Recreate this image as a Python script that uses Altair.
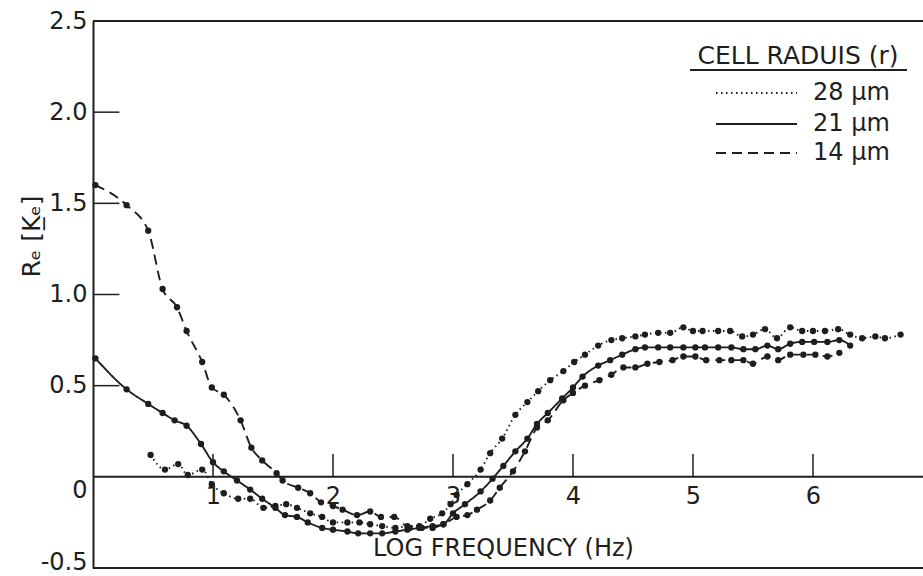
import altair as alt
import pandas as pd

# ---- data ----
x28 = [0.48, 0.60, 0.71, 0.79, 0.91, 0.99, 1.09, 1.21, 1.31, 1.42, 1.52, 1.61, 1.70, 1.81, 1.91,
       2.00, 2.12, 2.22, 2.31, 2.41, 2.52, 2.62, 2.72, 2.81, 2.91, 2.98, 3.03, 3.12, 3.23, 3.31,
       3.41, 3.52, 3.62, 3.71, 3.81, 3.92, 4.01, 4.10, 4.21, 4.32, 4.41, 4.52, 4.60, 4.71, 4.81,
       4.92, 5.00, 5.08, 5.21, 5.31, 5.41, 5.50, 5.60, 5.70, 5.81, 5.91, 6.00, 6.10, 6.21, 6.31,
       6.41, 6.52, 6.60, 6.73]
y28 = [0.12, 0.04, 0.07, 0.01, 0.04, -0.04, -0.09, -0.12, -0.12, -0.17, -0.16, -0.15, -0.17, -0.20, -0.22,
       -0.25, -0.25, -0.25, -0.26, -0.27, -0.28, -0.27, -0.27, -0.23, -0.20, -0.15, -0.10, -0.04, 0.04, 0.13,
       0.21, 0.34, 0.41, 0.47, 0.53, 0.58, 0.63, 0.67, 0.72, 0.75, 0.76, 0.77, 0.78, 0.79, 0.79,
       0.82, 0.80, 0.80, 0.80, 0.80, 0.77, 0.78, 0.81, 0.76, 0.82, 0.80, 0.80, 0.80, 0.81, 0.78,
       0.76, 0.77, 0.76, 0.78]

x21 = [0.02, 0.28, 0.46, 0.58, 0.68, 0.78, 0.90, 1.00, 1.09, 1.20, 1.31, 1.41, 1.52, 1.60, 1.70,
       1.79, 1.91, 2.00, 2.12, 2.21, 2.31, 2.41, 2.52, 2.62, 2.72, 2.83, 2.92, 3.00, 3.10, 3.23,
       3.33, 3.42, 3.52, 3.62, 3.70, 3.79, 3.91, 4.00, 4.08, 4.21, 4.31, 4.41, 4.52, 4.60, 4.71,
       4.81, 4.92, 5.02, 5.10, 5.21, 5.32, 5.42, 5.52, 5.62, 5.71, 5.81, 5.91, 6.01, 6.12, 6.22, 6.31]
y21 = [0.65, 0.48, 0.40, 0.35, 0.31, 0.28, 0.18, 0.08, 0.03, -0.02, -0.07, -0.12, -0.17, -0.21, -0.22,
       -0.25, -0.28, -0.29, -0.30, -0.31, -0.31, -0.31, -0.30, -0.29, -0.28, -0.27, -0.26, -0.20, -0.15, -0.08,
       -0.01, 0.06, 0.14, 0.21, 0.29, 0.35, 0.43, 0.49, 0.55, 0.61, 0.64, 0.67, 0.70, 0.71, 0.71,
       0.71, 0.71, 0.71, 0.71, 0.71, 0.71, 0.70, 0.70, 0.72, 0.70, 0.73, 0.74, 0.74, 0.74, 0.75, 0.72]

x14 = [0.02, 0.28, 0.46, 0.58, 0.70, 0.78, 0.91, 0.99, 1.09, 1.23, 1.32, 1.41, 1.53, 1.58, 1.71,
       1.81, 1.90, 2.00, 2.08, 2.20, 2.31, 2.40, 2.51, 2.64, 2.74, 2.83, 2.92, 3.03, 3.12, 3.20,
       3.31, 3.39, 3.50, 3.60, 3.70, 3.79, 3.92, 4.00, 4.10, 4.22, 4.32, 4.42, 4.52, 4.62, 4.72,
       4.83, 4.92, 5.02, 5.11, 5.22, 5.32, 5.42, 5.50, 5.62, 5.71, 5.81, 5.92, 6.02, 6.12, 6.22]
y14 = [1.60, 1.49, 1.35, 1.03, 0.93, 0.80, 0.63, 0.49, 0.45, 0.31, 0.16, 0.09, 0.02, -0.02, -0.06,
       -0.09, -0.14, -0.16, -0.18, -0.21, -0.19, -0.22, -0.22, -0.28, -0.28, -0.28, -0.26, -0.22, -0.21, -0.18,
       -0.13, -0.06, 0.03, 0.14, 0.27, 0.31, 0.42, 0.46, 0.50, 0.53, 0.56, 0.60, 0.60, 0.62, 0.63,
       0.64, 0.66, 0.66, 0.64, 0.64, 0.64, 0.64, 0.62, 0.66, 0.64, 0.67, 0.67, 0.67, 0.66, 0.68]

legend_title = "CELL RADUIS (r)"
legend_labels = ["28 μm", "21 μm", "14 μm"]
x_tick_values = [1, 2, 3, 4, 5, 6]
y_tick_values = [0.5, 1.0, 1.5, 2.0]
y_label_values = [-0.5, 0, 0.5, 1.0, 1.5, 2.0, 2.5]
x_title = "LOG FREQUENCY (Hz)"
y_title = "Rₑ [K̲ₑ]"

# ---- style ----
FONT = "DejaVu Sans"
INK = "#1e1e1e"
XMAX = 6.917
W, H = 830, 547
dashes = {"28 μm": [1.5, 3.5], "21 μm": [1, 0], "14 μm": [10, 6]}

xs = alt.Scale(domain=[0, XMAX], nice=False, zero=False)
ys = alt.Scale(domain=[-0.5, 2.5], nice=False, zero=False)

x_axis = alt.Axis(values=x_tick_values, format="d", ticks=False, domain=False, grid=False,
                  offset=-87, labelFontSize=24, labelFont=FONT, labelColor=INK, labelPadding=3,
                  labelFlush=False, labelOverlap=False,
                  title=x_title, titleFont=FONT, titleFontSize=24, titleFontWeight="normal",
                  titleColor=INK, titleX=410, titleY=67, titleAlign="center", titleBaseline="middle")
y_axis = alt.Axis(values=y_label_values,
                  labelExpr="datum.value == 0 ? '0' : (datum.value < 0 ? '-0.5' : format(datum.value, '.1f'))",
                  labelOffset={"condition": [{"test": "datum.value == 0", "value": 14},
                                             {"test": "datum.value < 0", "value": -6}],
                               "value": 0},
                  ticks=False, domain=True, domainColor=INK, domainWidth=2, grid=False,
                  labelFontSize=24, labelFont=FONT, labelColor=INK, labelPadding=6,
                  labelFlush=False, labelOverlap=False,
                  title=y_title, titleFont=FONT, titleFontSize=25, titleFontWeight="normal",
                  titleColor=INK, titleX=-62, titleY=215, titleAngle=270,
                  titleAlign="center", titleBaseline="middle")

frame_df = pd.DataFrame({"y": [2.5, 0.0, -0.5], "x": [0.0] * 3, "x2": [XMAX] * 3})
frame = alt.Chart(frame_df).mark_rule(color=INK, strokeWidth=2).encode(
    x=alt.X("x:Q", scale=xs, axis=x_axis),
    x2="x2:Q",
    y=alt.Y("y:Q", scale=ys, axis=y_axis),
)

xt_df = pd.DataFrame({"x": x_tick_values, "y": [0.0] * 6, "y2": [0.125] * 6})
xticks = alt.Chart(xt_df).mark_rule(color=INK, strokeWidth=1.5).encode(
    x=alt.X("x:Q", scale=xs), y=alt.Y("y:Q", scale=ys), y2="y2:Q")

yt_df = pd.DataFrame({"y": y_tick_values, "x": [0.0] * 4, "x2": [0.22] * 4})
yticks = alt.Chart(yt_df).mark_rule(color=INK, strokeWidth=1.5).encode(
    y=alt.Y("y:Q", scale=ys), x=alt.X("x:Q", scale=xs), x2="x2:Q")

layers = [frame, xticks, yticks]
for name, xv, yv in [("28 μm", x28, y28), ("21 μm", x21, y21), ("14 μm", x14, y14)]:
    df = pd.DataFrame({"x": xv, "y": yv})
    base = alt.Chart(df).encode(x=alt.X("x:Q", scale=xs), y=alt.Y("y:Q", scale=ys))
    layers.append(base.mark_line(color=INK, strokeWidth=1.9, strokeDash=dashes[name],
                                 interpolate="monotone"))
    layers.append(base.mark_circle(color=INK, opacity=1, size=40))

# ---- hand-drawn style legend ----
one = pd.DataFrame({"a": [0]})
layers.append(alt.Chart(one).mark_text(font=FONT, fontSize=25, color=INK, align="center",
                                       baseline="middle").encode(
    x=alt.value(705), y=alt.value(35), text=alt.value(legend_title)))
layers.append(alt.Chart(one).mark_rule(color=INK, strokeWidth=2).encode(
    x=alt.value(597), x2=alt.value(814), y=alt.value(49)))
for i, lab in enumerate(legend_labels):
    yy = [72, 103, 132][i]
    layers.append(alt.Chart(one).mark_rule(color=INK, strokeWidth=2, strokeDash=dashes[lab]).encode(
        x=alt.value(623), x2=alt.value(704), y=alt.value(yy)))
    layers.append(alt.Chart(one).mark_text(font=FONT, fontSize=24, color=INK, align="left",
                                           baseline="middle").encode(
        x=alt.value(720), y=alt.value(yy), text=alt.value(lab)))

chart = alt.layer(*layers).properties(
    width=W, height=H,
    autosize=alt.AutoSizeParams(type="none"),
    padding={"left": 93, "top": 21, "right": 0, "bottom": 8},
    background="white",
).configure_view(stroke=None)

chart.save("out.html", embed_options={"renderer": "svg", "actions": False})
